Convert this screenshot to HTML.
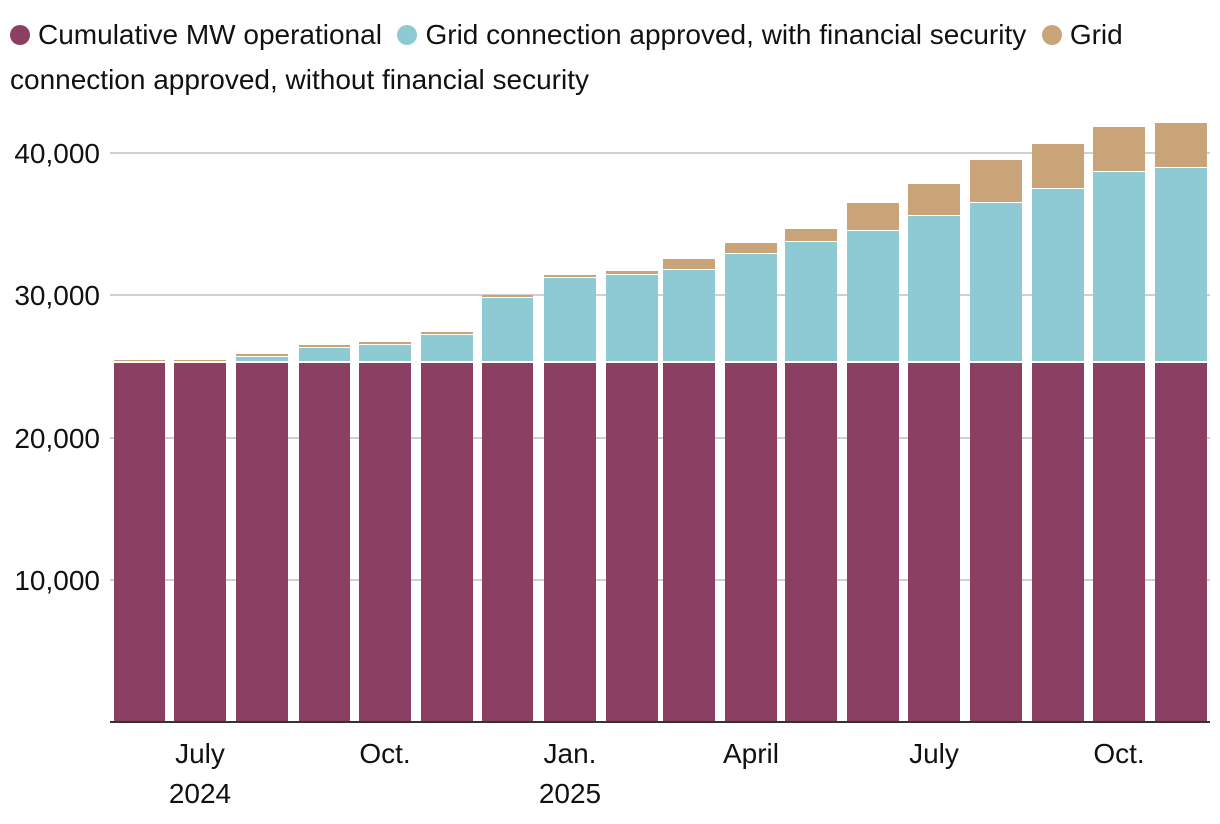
<!DOCTYPE html>
<html><head><meta charset="utf-8"><style>
body{margin:0;background:#fff;width:1220px;height:824px;overflow:hidden;font-family:"Liberation Sans",sans-serif;color:#111}
.leg{position:absolute;left:10px;top:12px;width:1215px;font-size:28px;line-height:45px;white-space:nowrap}
.d{display:inline-block;width:20px;height:20px;border-radius:50%;vertical-align:-1px;margin-right:8px}
</style></head><body>
<div class="leg"><span class="d" style="background:#8b3f62"></span>Cumulative MW operational &nbsp;<span class="d" style="background:#8ecad4"></span>Grid connection approved, with financial security &nbsp;<span class="d" style="background:#c8a478"></span>Grid<br>connection approved, without financial security</div>
<svg width="1220" height="824" style="position:absolute;left:0;top:0">
<g stroke="#d0d0d0" stroke-width="2">
<line x1="110" x2="1210" y1="153" y2="153"/><line x1="110" x2="1210" y1="295" y2="295"/><line x1="110" x2="1210" y1="438" y2="438"/><line x1="110" x2="1210" y1="580" y2="580"/>
</g>
<g font-size="28" fill="#111" text-anchor="end">
<text x="100" y="163">40,000</text><text x="100" y="305">30,000</text><text x="100" y="448">20,000</text><text x="100" y="590">10,000</text>
</g>
<g id="bars"></g>
<line x1="110" x2="1210" y1="722" y2="722" stroke="#333" stroke-width="2"/>
<g font-size="28" fill="#111" text-anchor="middle">
<text x="200" y="763">July</text><text x="200" y="803">2024</text>
<text x="385" y="763">Oct.</text>
<text x="570" y="763">Jan.</text><text x="570" y="803">2025</text>
<text x="751" y="763">April</text>
<text x="934" y="763">July</text>
<text x="1119" y="763">Oct.</text>
</g>
</svg>
<script>
var xs=[[114,165],[174,226],[236,288],[299,350],[359,411],[421,473],[482,533],[544,596],[606,658],[663,715],[725,777],[785,837],[847,899],[908,960],[970,1022],[1032,1084],[1093,1145],[1155,1207]];
var bl=[362,362,357,348,345,335,298,278,275,270,254,242,231,216,203,189,172,168];
var gd=[360,360,354,345,342,332,295,275,271,259,243,229,203,184,160,144,127,123];
var s="";
for(var i=0;i<18;i++){var x=xs[i][0],w=xs[i][1]-xs[i][0];
s+='<rect x="'+x+'" y="363" width="'+w+'" height="358" fill="#8b3f62"/>';
if(bl[i]<361)s+='<rect x="'+x+'" y="'+bl[i]+'" width="'+w+'" height="'+(361-bl[i])+'" fill="#8ecad4"/>';
var gb=(bl[i]<361?bl[i]-1:361);
s+='<rect x="'+x+'" y="'+gd[i]+'" width="'+w+'" height="'+Math.max(1,gb-gd[i])+'" fill="#c8a478"/>';}
document.getElementById('bars').innerHTML=s;
</script>
</body></html>
